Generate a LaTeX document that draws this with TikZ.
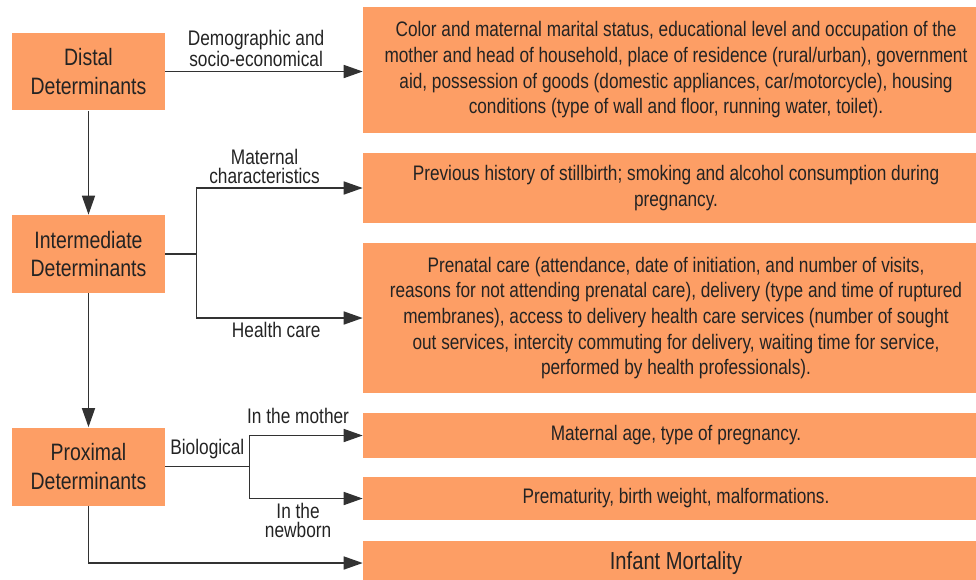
\documentclass[tikz,border=0pt]{standalone}
\usepackage{fontspec}
\setmainfont[FakeStretch=0.82]{Liberation Sans}
\usetikzlibrary{arrows.meta}

\definecolor{boxorange}{RGB}{253,158,101}
\definecolor{linegray}{RGB}{50,50,50}
\definecolor{textgray}{RGB}{35,35,35}

\tikzset{
  detbox/.style={fill=boxorange, text=textgray, minimum width=3.06cm, minimum height=1.56cm,
    align=center, font=\fontsize{13.5}{16}\selectfont},
  factbox/.style={fill=boxorange, text=textgray, minimum width=12.52cm,
    align=center, font=\fontsize{11.95}{14.6}\selectfont},
  link/.style={draw=linegray, line width=0.9pt},
  arr/.style={link, -{Triangle[length=0.38cm,width=0.26cm]}},
  lbl/.style={text=textgray, align=center, font=\fontsize{12}{10.9}\selectfont, inner sep=2pt}
}

\begin{document}
\begin{tikzpicture}[x=0.02cm,y=-0.02cm]
  \useasboundingbox (0,0) rectangle (976,579);

  % Determinant levels on the left
  \node[detbox] (dist) at (88.5,71.5) {Distal\\Determinants};
  \node[detbox] (inter) at (88.5,254) {Intermediate\\Determinants};
  \node[detbox] (prox) at (88.5,466.5) {Proximal\\Determinants};

  % Factor boxes on the right (they run past the right edge)
  \node[factbox, minimum height=2.52cm] (socio) at (676,70) {Color and maternal marital status, educational level and occupation of the\\mother and head of household, place of residence (rural/urban), government\\aid, possession of goods (domestic appliances, car/motorcycle), housing\\conditions (type of wall and floor, running water, toilet).};
  \node[factbox, minimum height=1.4cm] (mchar) at (676,188) {Previous history of stillbirth; smoking and alcohol consumption during\\pregnancy.};
  \node[factbox, minimum height=3cm] (hcare) at (676,318) {Prenatal care (attendance, date of initiation, and number of visits,\\reasons for not attending prenatal care), delivery (type and time of ruptured\\membranes), access to delivery health care services (number of sought\\out services, intercity commuting for delivery, waiting time for service,\\performed by health professionals).};
  \node[factbox, minimum height=0.9cm] (mother) at (676,435.5) {Maternal age, type of pregnancy.};
  \node[factbox, minimum height=0.86cm] (newborn) at (676,498.5) {Prematurity, birth weight, malformations.};
  \node[factbox, minimum height=0.88cm, font=\fontsize{14}{16}\selectfont] (death) at (676,563) {Infant Mortality};

  % Distal level
  \draw[arr] (dist.east) -- (dist.east -| socio.west)
    node[lbl, above, pos=0.46] {Demographic and\\socio-economical};
  \draw[arr] (dist.south) -- (inter.north);

  % Intermediate level, split in two branches
  \draw[link] (inter.east) -- ++(31,0) coordinate (ibr);
  \draw[link] (ibr |- mchar.west) -- (ibr |- hcare.west);
  \draw[arr] (ibr |- mchar.west) -- (mchar.west)
    node[lbl, above, pos=0.41] {Maternal\\characteristics};
  \draw[arr] (ibr |- hcare.west) -- (hcare.west)
    node[lbl, below, pos=0.48] {Health care};
  \draw[arr] (inter.south) -- (prox.north);

  % Proximal level
  \draw[link] (prox.east) -- node[lbl, above, yshift=2pt] {Biological} ++(84,0) coordinate (pbr);
  \draw[link] (pbr |- mother.west) -- (pbr |- newborn.west);
  \draw[arr] (pbr |- mother.west) -- (mother.west)
    node[lbl, above, pos=0.43, yshift=4pt] {In the mother};
  \draw[arr] (pbr |- newborn.west) -- (newborn.west)
    node[lbl, below, pos=0.43] {In the\\newborn};
  \draw[arr] (prox.south) |- (death.west);

\end{tikzpicture}
\end{document}
